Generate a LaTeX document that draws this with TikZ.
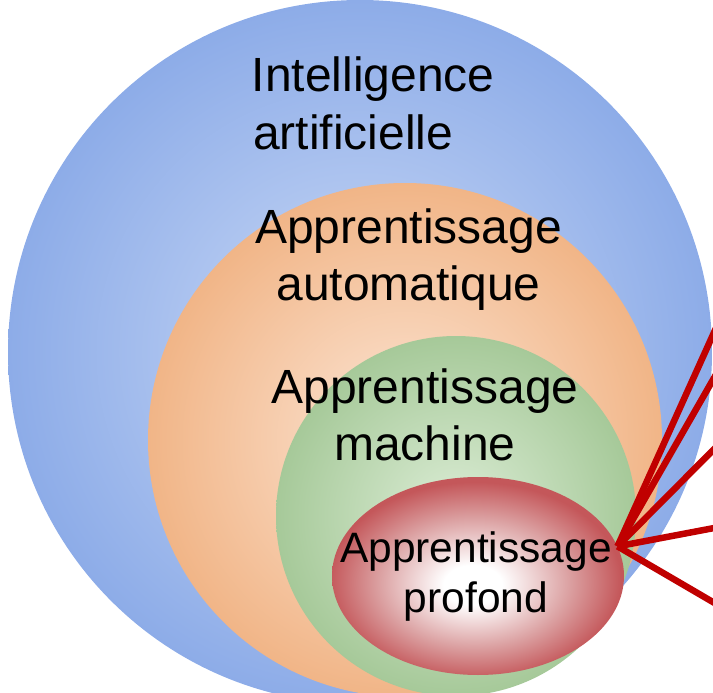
\documentclass[tikz,border=0pt]{standalone}
\usepackage{fontspec}
\setmainfont{Liberation Sans}
\usetikzlibrary{shapes.geometric}

\definecolor{aiIn}{HTML}{CBDAF6}
\definecolor{aiOut}{HTML}{8DACE8}
\definecolor{mlIn}{HTML}{FCE6D6}
\definecolor{mlOut}{HTML}{F1B587}
\definecolor{amIn}{HTML}{DCEDD6}
\definecolor{amOut}{HTML}{A6C999}
\definecolor{dlIn}{HTML}{FFFFFF}
\definecolor{dlMid}{HTML}{DCA3A4}
\definecolor{dlOut}{HTML}{C4575A}
\definecolor{rayred}{HTML}{C00000}

% radial fill with a wider pale core, set a little below the middle
\pgfdeclareradialshading{softcore}{\pgfpoint{-1bp}{-2.5bp}}{%
  color(0bp)=(dlIn); color(5bp)=(dlIn); color(16bp)=(dlMid);
  color(25bp)=(dlOut); color(50bp)=(dlOut)}

\tikzset{
  disc/.style={circle, inner sep=0pt, draw=none, shading=radial},
  bigtxt/.style={inner sep=0pt, font=\fontsize{48}{57}\selectfont},
  smalltxt/.style={inner sep=0pt, font=\fontsize{42.5}{50}\selectfont},
  ray/.style={draw=rayred, line width=6.5pt, line cap=butt},
}

\begin{document}
\begin{tikzpicture}[x=1pt, y=-1pt]
  \useasboundingbox (0,0) rectangle (713,693);
  \clip (0,0) rectangle (713,693);

  % nested fields, outermost first
  \node[disc, minimum size=704, inner color=aiIn, outer color=aiOut] (ai) at (360,352) {};
  \node[disc, minimum size=514, inner color=mlIn, outer color=mlOut] (ml) at (405,440) {};
  \node[disc, minimum size=360, inner color=amIn, outer color=amOut] (am) at (456,516) {};
  \node[ellipse, inner sep=0pt, draw=none, shading=softcore,
        minimum width=292, minimum height=198] (dl) at (478,576) {};

  % labels
  \node[bigtxt, anchor=base west] (ai1) at (251.5,92) {Intelligence};
  \node[bigtxt, anchor=base west] (ai2) at (253,149.5) {artificielle};
  \node[bigtxt, anchor=base] (ml1) at (408.5,243.5) {Apprentissage};
  \node[bigtxt, anchor=base] (ml2) at (408.5,300) {automatique};
  \node[bigtxt, anchor=base] (am1) at (425,403.5) {Apprentissage};
  \node[bigtxt, anchor=base] (am2) at (425,460) {machine};
  \node[smalltxt, anchor=base] (dl1) at (476,562) {Apprentissage};
  \node[smalltxt, anchor=base] (dl2) at (476,612) {profond};

  % rays converging on the deep-learning field
  \coordinate (hub) at (dl.12);
  \coordinate (r1) at (730,297);
  \coordinate (r2) at (730,350);
  \coordinate (r3) at (730,433);
  \coordinate (r4) at (730,525);
  \coordinate (r5) at (730,612);
  \foreach \r in {r1,r2,r3,r4,r5}
    \draw[ray] (\r) -- (hub);
\end{tikzpicture}
\end{document}
